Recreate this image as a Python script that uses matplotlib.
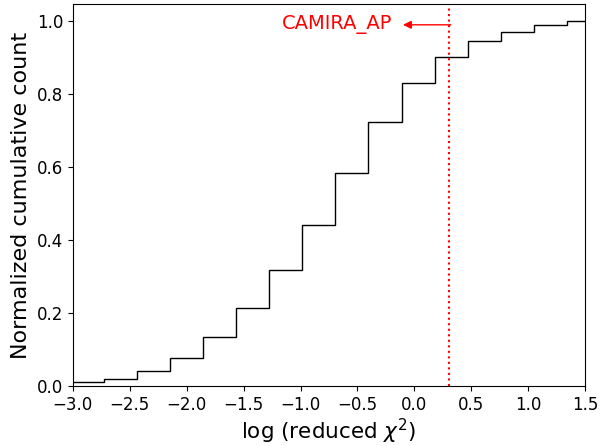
import matplotlib
matplotlib.use('Agg')
import matplotlib.pyplot as plt

# Границы бинов log(reduced chi^2) и нормированный накопленный счёт
bin_edges = [-3.02, -2.73, -2.44, -2.15, -1.855, -1.565, -1.275, -0.985, -0.695,
             -0.405, -0.11, 0.18, 0.47, 0.76, 1.05, 1.34, 1.63]
cum_count = [0.010, 0.019, 0.041, 0.076, 0.134, 0.215, 0.319, 0.442, 0.583,
             0.723, 0.830, 0.903, 0.945, 0.970, 0.990, 1.000]

# Положение порога CAMIRA_AP
camira_x = 0.3
camira_label = 'CAMIRA_AP'

fig = plt.figure(figsize=(6.02, 4.46), dpi=100)
ax = fig.add_axes([0.121, 0.1345, 0.851, 0.8565])

ax.stairs(cum_count, bin_edges, color='black', linewidth=1.0, baseline=0)

ax.axvline(camira_x, color='red', linestyle=':', linewidth=1.5)
ax.annotate('', xy=(-0.1, 0.99), xytext=(camira_x + 0.02, 0.99),
            arrowprops=dict(arrowstyle='-|>', color='red', lw=1.0,
                            shrinkA=0, shrinkB=0, mutation_scale=12))
ax.text(-0.19, 0.99, camira_label, color='red', fontsize=14,
        ha='right', va='center')

ax.set_xlim(-3.0, 1.5)
ax.set_ylim(0, 1.047)
ax.tick_params(labelsize=12)
ax.set_xlabel(r'log (reduced $\chi^2$)', fontsize=15.5, labelpad=2)
ax.set_ylabel('Normalized cumulative count', fontsize=16)

plt.savefig('out.png', dpi=100)
